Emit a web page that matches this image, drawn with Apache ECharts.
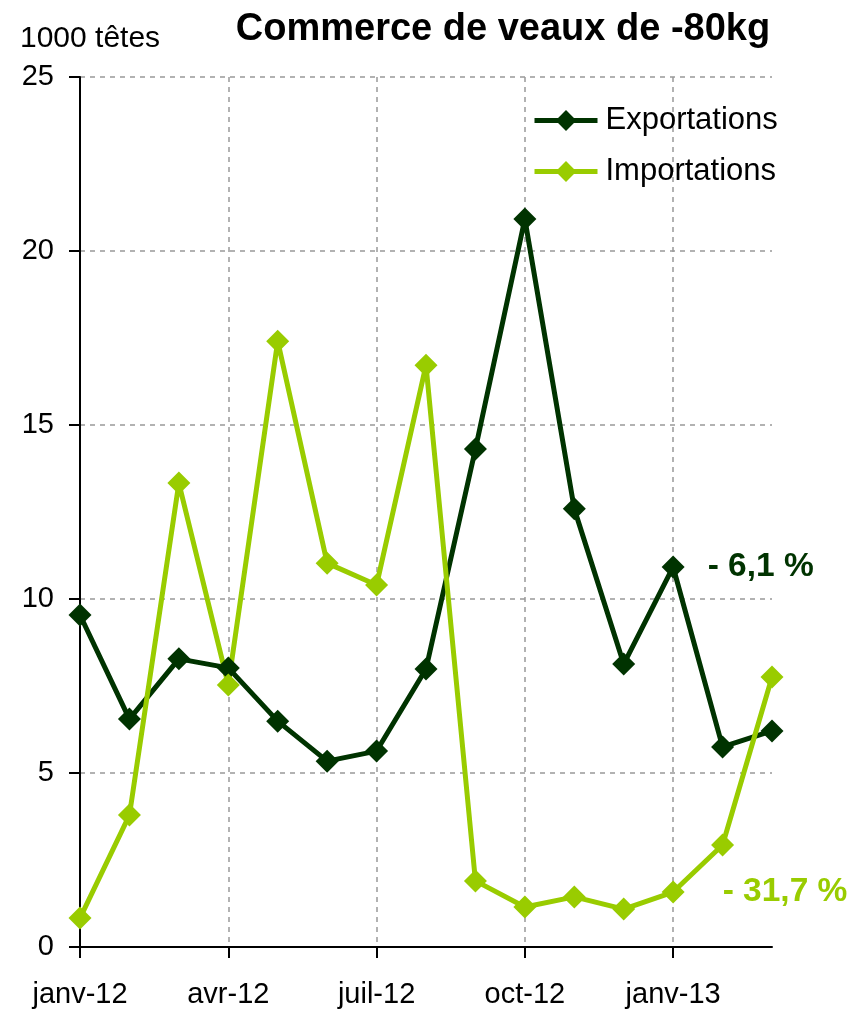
<!DOCTYPE html>
<html><head><meta charset="utf-8">
<script src="https://cdn.jsdelivr.net/npm/echarts@6/dist/echarts.min.js"></script>
<style>html,body{margin:0;padding:0;background:#fff}#c{width:852px;height:1011px}</style>
</head><body><div id="c"></div>
<script>
const categories = ['janv-12','févr-12','mars-12','avr-12','mai-12','juin-12','juil-12','août-12','sept-12','oct-12','nov-12','déc-12','janv-13','févr-13','mars-13'];
const exportations = [9.54, 6.55, 8.28, 8.02, 6.49, 5.34, 5.63, 7.99, 14.31, 20.92, 12.59, 8.13, 10.92, 5.75, 6.21];
const importations = [0.83, 3.79, 13.33, 7.53, 17.41, 11.03, 10.40, 16.72, 1.90, 1.15, 1.44, 1.09, 1.58, 2.93, 7.76];
const yTicks = [0, 5, 10, 15, 20, 25];
const annotExp = '- 6,1 %';
const annotImp = '- 31,7 %';
const annotIndex = 12;

const FONT = '"Liberation Sans", Arial, sans-serif';
const DARK = '#003300', LIGHT = '#99CC00';

function withLabel(arr, text, color, dist) {
  return arr.map((v, i) => i === annotIndex ? {
    value: v,
    label: { show: true, position: 'right', distance: dist, formatter: text,
      color: color, fontFamily: FONT, fontWeight: 'bold', fontSize: 33.5 }
  } : v);
}

const chart = echarts.init(document.getElementById('c'), null, {renderer: 'canvas'});
chart.setOption({
  backgroundColor: '#fff',
  animation: false,
  title: {
    text: 'Commerce de veaux de -80kg',
    left: 498, top: 6, textAlign: 'center',
    textStyle: { fontFamily: FONT, fontWeight: 'bold', fontSize: 38, color: '#000' }
  },
  graphic: [{
    type: 'text', left: 20, top: 24,
    style: { text: '1000 têtes', fontFamily: FONT, fontSize: 30, fill: '#000' }
  }],
  legend: {
    orient: 'vertical', left: 527, top: 100,
    itemWidth: 63, itemHeight: 26, itemGap: 20,
    lineStyle: { width: 5 },
    textStyle: { fontFamily: FONT, fontSize: 31, lineHeight: 26, color: '#000', padding: [0,0,0,3] },
    data: ['Exportations', 'Importations']
  },
  grid: { left: 80, right: 80, top: 77, bottom: 64, containLabel: false },
  xAxis: {
    type: 'category', data: categories, boundaryGap: false,
    axisLine: { lineStyle: { color: '#000', width: 2 } },
    axisTick: { show: true, interval: 2, length: 11, inside: false, lineStyle: { color: '#000', width: 2 } },
    axisLabel: { interval: 2, margin: 33, fontFamily: FONT, fontSize: 29, color: '#000' },
    splitLine: { show: true, interval: 2, lineStyle: { color: '#999', type: [5, 5], width: 1.5 } }
  },
  yAxis: {
    type: 'value', min: 0, max: 25, interval: 5,
    axisLine: { show: true, lineStyle: { color: '#000', width: 2 } },
    axisTick: { show: true, length: 11, lineStyle: { color: '#000', width: 2 } },
    axisLabel: { margin: 26, fontFamily: FONT, fontSize: 29, color: '#000',
      formatter: v => yTicks.includes(v) ? String(v) : '' },
    splitLine: { show: true, lineStyle: { color: '#999', type: [5, 5], width: 1.5 } }
  },
  series: [
    { name: 'Exportations', type: 'line', data: withLabel(exportations, annotExp, DARK, 23),
      symbol: 'diamond', symbolSize: 23, color: DARK,
      lineStyle: { width: 5, color: DARK }, itemStyle: { color: DARK } },
    { name: 'Importations', type: 'line', data: withLabel(importations, annotImp, LIGHT, 38),
      symbol: 'diamond', symbolSize: 23, color: LIGHT,
      lineStyle: { width: 5, color: LIGHT }, itemStyle: { color: LIGHT } }
  ]
});
</script></body></html>
